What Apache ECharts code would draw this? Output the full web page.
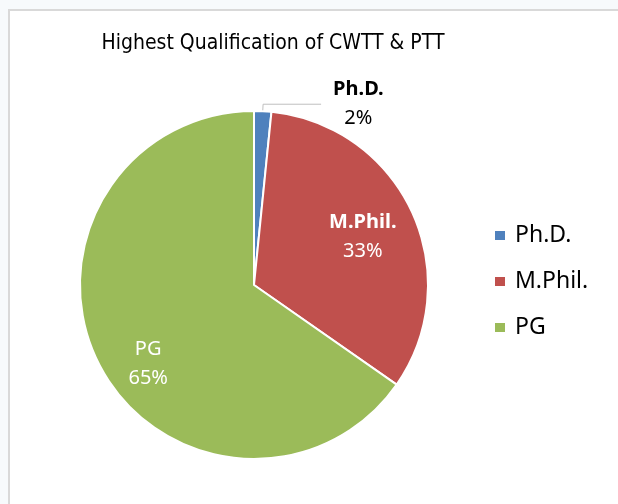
<!DOCTYPE html>
<html>
<head>
<meta charset="utf-8">
<script src="https://cdn.jsdelivr.net/npm/echarts@6/dist/echarts.min.js"></script>
<style>
    html, body { margin: 0; padding: 0; background: #fff; }
    #wrap { position: relative; width: 618px; height: 504px; overflow: hidden; background: #f7fafc; }
    #frame { position: absolute; left: 8px; top: 9px; width: 620px; height: 500px; background: #fff;
             border-left: 2px solid #d9d9d9; border-top: 2px solid #d9d9d9; }
    #chart { position: absolute; left: 0; top: 0; width: 618px; height: 504px; }
</style>
</head>
<body>
<div id="wrap">
    <div id="frame"></div>
    <div id="chart"></div>
</div>
<script type="text/javascript">
// highest qualification shares
var categories = ['Ph.D.', 'M.Phil.', 'PG']
var shares = [1.6, 33.1, 65.3]
var colors = ['#4f81bd', '#c0504d', '#9bbb59']

var labelFont = '"Noto Sans", "Open Sans", sans-serif'

var pieData = []
for (var i = 0; i < categories.length; i++) {
    pieData.push({ name: categories[i], value: shares[i], itemStyle: { color: colors[i] } })
}
// Ph.D. sits outside with a leader line, the others inside
pieData[0].label = { position: 'outside', color: '#000', distanceToLabelLine: 12 }
pieData[0].labelLine = { show: true, length: 7, length2: 58, lineStyle: { color: '#bfbfbf', width: 1 } }
pieData[1].label = { position: 'inside', color: '#fff', offset: [27, -11] }
pieData[2].label = { position: 'inside', color: '#fff', offset: [-26, 37] }
pieData[2].label.formatter = function (p) {
    return '{n|' + p.name + '}\n{p|' + Math.round(p.percent) + '%}'
}

var chart = echarts.init(document.getElementById('chart'))
chart.setOption({
    backgroundColor: 'transparent',
    animation: false,
    title: {
        text: 'Highest Qualification of CWTT & PTT',
        left: 268,
        top: 28,
        textAlign: 'center',
        textStyle: {
            fontFamily: '"Liberation Sans Narrow", "DejaVu Sans Condensed", sans-serif',
            fontSize: 21,
            fontWeight: 'normal',
            color: '#000'
        }
    },
    legend: {
        orient: 'vertical',
        left: 488,
        top: 219,
        icon: 'rect',
        itemWidth: 12,
        itemHeight: 11,
        itemGap: 23,
        data: categories,
        textStyle: { fontFamily: labelFont, fontSize: 23, color: '#000', padding: [0, 0, 0, 4] }
    },
    series: [{
        type: 'pie',
        center: [254, 285],
        radius: 174,
        startAngle: 90,
        clockwise: true,
        avoidLabelOverlap: false,
        itemStyle: { borderColor: '#fff', borderWidth: 2 },
        label: {
            show: true,
            fontFamily: labelFont,
            fontSize: 20,
            formatter: function (p) {
                return '{b|' + p.name + '}\n{p|' + Math.round(p.percent) + '%}'
            },
            rich: {
                b: { fontFamily: labelFont, fontSize: 20, fontWeight: 'bold', lineHeight: 29, align: 'center' },
                n: { fontFamily: labelFont, fontSize: 20, lineHeight: 29, align: 'center' },
                p: { fontFamily: labelFont, fontSize: 20, lineHeight: 29, align: 'center' }
            }
        },
        data: pieData
    }]
})
</script>
</body>
</html>
